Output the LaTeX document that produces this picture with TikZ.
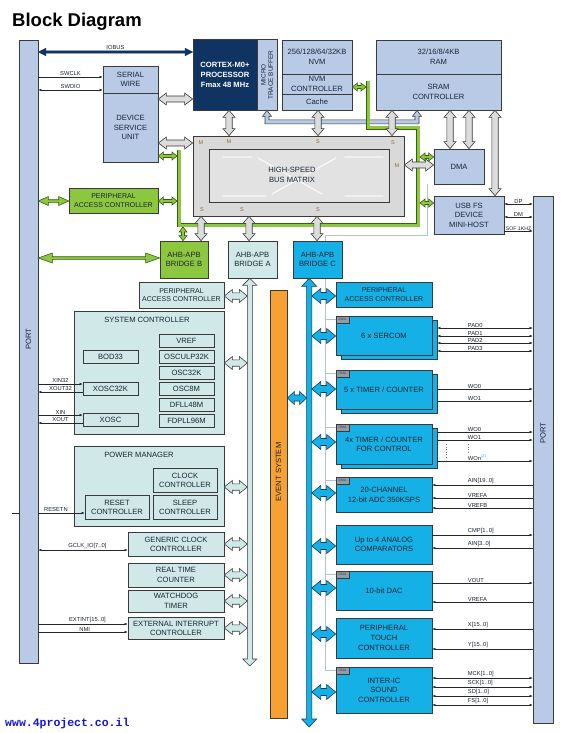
\documentclass[tikz,border=0pt]{standalone}
\usepackage{fontspec}
\setmainfont{Liberation Sans}
\newfontfamily\wmfont{Liberation Mono}
\usetikzlibrary{calc,arrows.meta}
\pgfdeclarelayer{bg}
\pgfsetlayers{bg,main}
\definecolor{pblue}{HTML}{B8CAE6}
\definecolor{navy}{HTML}{0F3462}
\definecolor{mgray}{HTML}{D9D9D9}
\definecolor{igray}{HTML}{E2E2E2}
\definecolor{fgray}{HTML}{DCDCDC}
\definecolor{lgreen}{HTML}{8DC63F}
\definecolor{dgreen}{HTML}{35610F}
\definecolor{tealbox}{HTML}{D0E9E8}
\definecolor{cyanb}{HTML}{15B1E6}
\definecolor{bdark}{HTML}{133D5C}
\definecolor{orng}{HTML}{F7A134}
\definecolor{outl}{HTML}{3A3A3A}
\definecolor{txt}{HTML}{1A2433}
\definecolor{dmag}{HTML}{8E9DA8}
\definecolor{reql}{HTML}{B0C3CF}
\definecolor{mslab}{HTML}{8C6A3F}
\definecolor{wmblue}{HTML}{1414E6}
\newcommand\fsz[2]{\fontsize{#1}{#2}\selectfont}
\newcommand\boxat[7][bx]{\node[#1,minimum width={(#5-#3)*1pt},minimum height={(#6-#4)*1pt}] (#2) at ({(#3+#5)/2},{(#4+#6)/2}) {#7};}
\newcommand\fatarr[6][gfat]{%
 \path[#1] let \p1=(#2),\p2=(#3),\n1={atan2(\y2-\y1,\x2-\x1)} in
 (\p1) -- ($(\p1)+(\n1:#4pt)+({\n1+90}:#5pt)$) -- ($(\p1)+(\n1:#4pt)+({\n1+90}:#6pt)$)
 -- ($(\p2)+({\n1+180}:#4pt)+({\n1+90}:#6pt)$) -- ($(\p2)+({\n1+180}:#4pt)+({\n1+90}:#5pt)$)
 -- (\p2) -- ($(\p2)+({\n1+180}:#4pt)+({\n1-90}:#5pt)$) -- ($(\p2)+({\n1+180}:#4pt)+({\n1-90}:#6pt)$)
 -- ($(\p1)+(\n1:#4pt)+({\n1-90}:#6pt)$) -- ($(\p1)+(\n1:#4pt)+({\n1-90}:#5pt)$) -- cycle;}
\newcounter{lb}
\newcommand\rsig[4]{\draw[sig,#1] (#2.east |- 0,#3) -- (portR.west |- 0,#3);\stepcounter{lb}\node[lab,anchor=south west] (rl\arabic{lb}) at (467,#3) {#4};}
\tikzset{
 bx/.style={draw=outl,line width=0.7pt,inner sep=0pt,align=center,text=txt,font=\fsz{7.6}{9.6}},
 pb/.style={bx,fill=pblue},
 gb/.style={bx,fill=lgreen},
 tb/.style={bx,fill=tealbox},
 cb/.style={bx,fill=cyanb},
 pacf/.style={font=\fsz{7}{8.3}},
 dmatag/.style={bx,fill=dmag,font=\fsz{3.4}{4},text=black!75,line width=0.5pt},
 gfat/.style={fill=fgray,draw=outl,line width=0.6pt},
 tfat/.style={fill=tealbox,draw=outl,line width=0.6pt},
 bfat/.style={fill=cyanb,draw=bdark,line width=0.6pt},
 grfat/.style={fill=lgreen,draw=dgreen,line width=0.6pt},
 nfat/.style={fill=navy,draw=navy,line width=0.4pt},
 sig/.style={draw=black!85,line width=0.5pt},
 ar/.style={-{Latex[length=3pt,width=2.6pt]}},
 al/.style={{Latex[length=3pt,width=2.6pt]}-},
 lr/.style={{Latex[length=3pt,width=2.6pt]}-{Latex[length=3pt,width=2.6pt]}},
 lab/.style={font=\fsz{5.8}{6.5},text=txt,inner sep=0.7pt},
 ms/.style={font=\fsz{5.5}{6},text=mslab,inner sep=0pt},
 req/.style={draw=reql,line width=1pt},
 gbus/.style={draw=dgreen,double=lgreen,double distance=3pt,line width=0.75pt,line join=miter},
 vtxt/.style={rotate=90,align=center,text=txt,font=\fsz{7.6}{8.5}},
}
\begin{document}
\begin{tikzpicture}[x=1pt,y=-1pt]
\useasboundingbox (0,0) rectangle (563,733);
\begin{pgfonlayer}{bg}
\fill[white] (0,0) rectangle (563,733);
\end{pgfonlayer}
\node[anchor=base west,inner sep=0pt,font=\bfseries\fsz{18.5}{20}] (title) at (12,27) {Block Diagram};
\node[anchor=base west,inner sep=0pt,font=\wmfont\bfseries\fsz{11.5}{12},text=wmblue] (wm) at (5,726) {www.4project.co.il};
% coordinates
\coordinate (gbusL) at (177,0); \coordinate (gbusR) at (420,0); \coordinate (gbusN) at (366,0); \coordinate (gbusB) at (0,227);
\coordinate (busAL) at (247.3,0); \coordinate (busAend) at (249.8,666);
\coordinate (busCL) at (306.6,0); \coordinate (busCR) at (311.8,0); \coordinate (busCend) at (309.2,727);
\coordinate (reqx) at (325,0); \coordinate (rstin) at (12,513);
% RESETN outside part (under port bar)
\draw[sig] (rstin) -- (38,513);
% ports
\boxat[pb]{portL}{19}{40}{38}{663}{}
\boxat[pb]{portR}{533}{196}{553}{723}{}
\node[vtxt] (portLt) at (28.5,339) {PORT};
\node[vtxt] (portRt) at (543,433) {PORT};
% top blocks
\boxat[bx,fill=navy,text=white,font=\bfseries\fsz{7.6}{10}]{cortex}{193}{39}{257}{110}{CORTEX-M0+\\PROCESSOR\\Fmax 48 MHz}
\boxat[pb]{mtb}{257}{39}{277}{110}{}
\node[vtxt,font=\fsz{6.4}{7.2}] (mtbt) at (267,75) {MICRO\\TRACE BUFFER};
\boxat[pb]{nvmtop}{282}{40}{352}{74}{256/128/64/32KB\\NVM}
\boxat[pb]{nvmctl}{282}{74}{352}{94}{NVM\\CONTROLLER}
\boxat[pb]{cache}{282}{94}{352}{110}{Cache}
\boxat[pb]{ramtop}{376}{40}{501}{74}{32/16/8/4KB\\RAM}
\boxat[pb]{sramc}{376}{74}{501}{110}{SRAM\\CONTROLLER}
\boxat[pb]{sw}{103}{66}{158}{93}{SERIAL\\WIRE}
\boxat[pb]{dsu}{103}{93}{158}{162}{DEVICE\\SERVICE\\UNIT}
% bus matrix
\boxat[bx,fill=mgray]{matrix}{193}{136}{404}{216}{}
\boxat[bx,fill=igray]{matrixin}{209}{149}{389}{202}{}
\draw[white,line width=1.3pt,line cap=round,opacity=0.75] (223,157)--(252,157) (258,158)--(322,194) (345,196)--(383,196) (223,196)--(266,196) (272,194)--(336,158) (345,157)--(383,157);
\node[align=center,text=txt,font=\fsz{7.6}{9.8}] (mtxt) at (292,175) {HIGH-SPEED\\BUS MATRIX};
\node[ms] (m1) at (201,143) {M};
\node[ms] (m2) at (229,142) {M};
\node[ms] (s1) at (318,142) {S};
\node[ms] (s2) at (393,143) {S};
\node[ms] (m3) at (397,166) {M};
\node[ms] (s3) at (202,210) {S};
\node[ms] (s4) at (242,210) {S};
\node[ms] (s5) at (318,210) {S};
\boxat[pb]{dma}{434}{149}{484}{184}{DMA}
\boxat[pb]{usb}{434}{196}{504}{234}{USB FS\\DEVICE\\MINI-HOST}
\boxat[gb,pacf]{gpac}{69}{188}{158}{213}{PERIPHERAL\\ACCESS CONTROLLER}
\boxat[gb]{brB}{160}{241}{208}{278}{AHB-APB\\BRIDGE B}
\boxat[tb]{brA}{228}{241}{277}{278}{AHB-APB\\BRIDGE A}
\boxat[cb]{brC}{293}{241}{342}{278}{AHB-APB\\BRIDGE C}
% bridge A peripherals
\boxat[tb,pacf]{tpac}{139}{282}{224}{308}{PERIPHERAL\\ACCESS CONTROLLER}
\boxat[tb]{sysc}{74}{311}{224}{434}{}
\node[text=txt,font=\fsz{7.6}{9}] (syst) at (147,320) {SYSTEM CONTROLLER};
\boxat[tb]{vref}{159}{334}{214}{347}{VREF}
\boxat[tb]{osculp}{159}{350}{214}{363}{OSCULP32K}
\boxat[tb]{osc32k}{159}{366}{214}{379}{OSC32K}
\boxat[tb]{osc8m}{159}{382}{214}{395}{OSC8M}
\boxat[tb]{dfll}{159}{398}{214}{411}{DFLL48M}
\boxat[tb]{fdpll}{159}{414}{214}{427}{FDPLL96M}
\boxat[tb]{bod}{83}{350}{138}{363}{BOD33}
\boxat[tb]{xosc32k}{83}{382}{138}{395}{XOSC32K}
\boxat[tb]{xosc}{83}{413}{138}{426}{XOSC}
\boxat[tb]{pm}{74}{446}{224}{526}{}
\node[text=txt,font=\fsz{7.6}{9}] (pmt) at (139,455) {POWER MANAGER};
\boxat[tb,font=\fsz{7.6}{9}]{clkc}{153}{468}{217}{492}{CLOCK\\CONTROLLER}
\boxat[tb,font=\fsz{7.6}{9}]{slpc}{153}{495}{217}{519}{SLEEP\\CONTROLLER}
\boxat[tb,font=\fsz{7.6}{9}]{rstc}{85}{495}{149}{519}{RESET\\CONTROLLER}
\boxat[tb,font=\fsz{7.6}{9}]{gclk}{128}{532}{224}{556}{GENERIC CLOCK\\CONTROLLER}
\boxat[tb]{rtc}{128}{563}{224}{587}{REAL TIME\\COUNTER}
\boxat[tb]{wdt}{128}{590}{224}{612}{WATCHDOG\\TIMER}
\boxat[tb,font=\fsz{7.6}{9}]{eic}{128}{617}{224}{639}{EXTERNAL INTERRUPT\\CONTROLLER}
% event system
\boxat[bx,fill=orng]{evsys}{270}{290}{287}{718}{}
\node[vtxt] (evt) at (278.5,472) {EVENT SYSTEM};
% bridge C peripherals
\boxat[cb,pacf]{bpac}{336}{282}{432}{307}{PERIPHERAL\\ACCESS CONTROLLER}
\boxat[cb]{sercomB}{341}{320}{437}{359}{}
\boxat[cb]{sercom}{336}{316}{432}{355}{6 x SERCOM}
\boxat[dmatag]{tagS}{336}{316}{349}{323}{DMA}
\boxat[cb]{tcB}{341}{374}{437}{413}{}
\boxat[cb]{tc}{336}{370}{432}{409}{5 x TIMER / COUNTER}
\boxat[dmatag]{tagT}{336}{370}{349}{377}{DMA}
\boxat[cb]{tccB}{341}{428}{437}{468}{}
\boxat[cb,font=\fsz{7.6}{9.2}]{tcc}{336}{424}{432}{464}{4x TIMER / COUNTER\\FOR CONTROL}
\boxat[dmatag]{tagC}{336}{424}{349}{431}{DMA}
\boxat[cb,font=\fsz{7.6}{10}]{adc}{336}{477}{432}{512}{20-CHANNEL\\12-bit ADC 350KSPS}
\boxat[dmatag]{tagA}{336}{477}{349}{484}{DMA}
\boxat[cb,font=\fsz{7.6}{9.2}]{ac}{336}{525}{432}{564}{Up to 4 ANALOG\\COMPARATORS}
\boxat[cb]{dac}{336}{571}{432}{610}{10-bit DAC}
\boxat[dmatag]{tagD}{336}{571}{349}{578}{DMA}
\boxat[cb,font=\fsz{7.6}{10}]{ptc}{336}{618}{432}{658}{PERIPHERAL\\TOUCH\\CONTROLLER}
\boxat[cb,font=\fsz{7.6}{9.5}]{i2s}{336}{667}{432}{713}{INTER-IC\\SOUND\\CONTROLLER}
\boxat[dmatag]{tagI}{336}{667}{349}{674}{DMA}
% DMA request line (behind the boxes)
\begin{pgfonlayer}{bg}
\draw[req] (dma.south -| 427,0) -- (427,235) -- (325,235) -- (reqx |- tagI.west) -- (tagI.west);
\foreach \tg in {tagS,tagT,tagC,tagA,tagD} {\draw[req] (reqx |- \tg.west) -- (\tg.west);}
\end{pgfonlayer}
% MTB pipe
\path[fill=pblue,draw=outl,line width=0.6pt] let \p1=(mtb.south),\p2=(sramc.south -| 417,0) in
 (\p1) -- (\x1+4.5pt,\y1-6pt) -- (\x1+2pt,\y1-6pt) -- (\x1+2pt,\y1-9.5pt) -- (\x2-2pt,\y1-9.5pt) -- (\x2-2pt,\y2-6pt) -- (\x2-4.5pt,\y2-6pt) -- (\p2) -- (\x2+4.5pt,\y2-6pt) -- (\x2+2pt,\y2-6pt) -- (\x2+2pt,\y1-13.5pt) -- (\x1-2pt,\y1-13.5pt) -- (\x1-2pt,\y1-6pt) -- (\x1-4.5pt,\y1-6pt) -- cycle;
% green bus
\draw[gbus] (368,81) -- (368,128) -- (418,128) -- (418,225) -- (179,225) -- (179,150);
% gray fat arrows
\fatarr{dsu.east |- 0,99}{cortex.west |- 0,99}{8}{6}{3}
\fatarr{dsu.east |- 0,143}{matrix.west |- 0,143}{8}{6}{3}
\fatarr{cortex.south -| 229,0}{matrix.north -| 229,0}{7}{6}{3.2}
\fatarr{cache.south -| 318,0}{matrix.north -| 318,0}{7}{6}{3.2}
\fatarr{sramc.south -| 392,0}{matrix.north -| 392,0}{7}{6}{3.2}
\fatarr{sramc.south -| 450,0}{dma.north -| 450,0}{7}{6}{3.2}
\fatarr{sramc.south -| 469,0}{dma.north -| 469,0}{7}{6}{3.2}
\fatarr{sramc.south -| 495,0}{usb.north -| 495,0}{7}{6}{3.2}
\fatarr{matrix.east |- 0,165}{dma.west |- 0,165}{8}{6}{3}
\fatarr{matrix.south -| 201,0}{brB.north -| 201,0}{7}{6}{3.2}
\fatarr{matrix.south -| 249,0}{brA.north -| 249,0}{7}{6}{3.2}
\fatarr{matrix.south -| 317,0}{brC.north -| 317,0}{7}{6}{3.2}
% green arrows
\fatarr[grfat]{portL.east |- 0,258}{brB.west |- 0,258}{14}{5}{1.3}
\fatarr[grfat]{portL.east |- 0,201}{gpac.west |- 0,201}{10}{4.5}{1.3}
\fatarr[grfat]{dsu.east |- 0,156}{gbusL |- 0,156}{5}{4}{1.5}
\fatarr[grfat]{gpac.east |- 0,201}{gbusL |- 0,201}{5}{4}{1.5}
\fatarr[grfat]{nvmctl.east |- 0,87}{gbusN |- 0,87}{5}{4}{1.5}
\fatarr[grfat]{gbusR |- 0,157}{dma.west |- 0,157}{5}{4}{1.5}
\fatarr[grfat]{gbusR |- 0,203}{usb.west |- 0,203}{5}{4}{1.5}
\fatarr[grfat]{gbusB -| 183,0}{brB.north -| 183,0}{5}{4}{1.5}
% navy IOBUS
\fatarr[nfat]{portL.east |- 0,52}{cortex.west |- 0,52}{7.5}{3.8}{1.1}
\path (portL.east |- 0,52) -- (cortex.west |- 0,52) node[lab,midway,above=1.5pt] (liobus) {IOBUS};
% bridge A bus
\fatarr[tfat]{brA.south -| 249.8,0}{busAend}{7}{7}{2.5}
\foreach \bn/\yy in {tpac/296,sysc/363,pm/487,gclk/544,rtc/575,wdt/601,eic/628}
 {\fatarr[tfat]{\bn.east |- 0,\yy}{busAL |- 0,\yy}{8}{6.5}{3.2}}
% bridge C bus
\fatarr[bfat]{brC.south -| 309.2,0}{busCend}{8}{7.5}{2.6}
\foreach \bn/\yy in {bpac/296,sercom/336,tc/389,tcc/442,adc/493,ac/546,dac/588,ptc/634,i2s/692}
 {\fatarr[bfat]{busCR |- 0,\yy}{\bn.west |- 0,\yy}{9}{7.5}{3.5}}
\fatarr[bfat]{evsys.east |- 0,398}{busCL |- 0,398}{7}{6.5}{3}
% left signals
\draw[sig,ar] (portL.east |- 0,77) -- (sw.west |- 0,77) node[lab,midway,above] (lswclk) {SWCLK};
\draw[sig,lr] (portL.east |- 0,90) -- (sw.west |- 0,90) node[lab,midway,above] (lswdio) {SWDIO};
\draw[sig,ar] (portL.east |- 0,384) -- (xosc32k.west |- 0,384) node[lab,midway,above] (lxin32) {XIN32};
\draw[sig,al] (portL.east |- 0,392) -- (xosc32k.west |- 0,392) node[lab,midway,above] (lxout32) {XOUT32};
\draw[sig,ar] (portL.east |- 0,415) -- (xosc.west |- 0,415) node[lab,midway,above] (lxin) {XIN};
\draw[sig,al] (portL.east |- 0,423) -- (xosc.west |- 0,423) node[lab,midway,above] (lxout) {XOUT};
\draw[sig,ar] (portL.east |- rstin) -- (rstc.west |- rstin) node[lab,pos=0.38,above] (lrst) {RESETN};
\draw[sig,lr] (portL.east |- 0,550) -- (gclk.west |- 0,550) node[lab,pos=0.55,above] (lgclk) {GCLK\_IO[7..0]};
\draw[sig,ar] (portL.east |- 0,624) -- (eic.west |- 0,624) node[lab,pos=0.55,above] (lext) {EXTINT[15..0]};
\draw[sig,ar] (portL.east |- 0,632) -- (eic.west |- 0,632) node[lab,pos=0.52,above] (lnmi) {NMI};
% USB signals
\draw[sig,lr] (usb.east |- 0,204) -- (portR.west |- 0,204) node[lab,midway,above] (ldp) {DP};
\draw[sig,lr] (usb.east |- 0,217) -- (portR.west |- 0,217) node[lab,midway,above] (ldm) {DM};
\draw[sig,ar] (usb.east |- 0,231) -- (portR.west |- 0,231) node[lab,midway,above,font=\fsz{5.2}{6}] (lsof) {SOF 1KHZ};
% right signals
\rsig{lr}{sercomB}{328}{PAD0}
\rsig{lr}{sercomB}{336}{PAD1}
\rsig{lr}{sercomB}{343}{PAD2}
\rsig{lr}{sercomB}{351}{PAD3}
\rsig{ar}{tcB}{389}{WO0}
\rsig{ar}{tcB}{401}{WO1}
\rsig{ar}{tccB}{432}{WO0}
\rsig{ar}{tccB}{440}{WO1}
\rsig{ar}{tccB}{461}{WOn\textsuperscript{\color{cyanb}(2)}}
\draw[dotted,black!55,line width=0.5pt] (446,444) -- (446,458) (468,444) -- (468,452);
\rsig{al}{adc}{485}{AIN[19..0]}
\rsig{al}{adc}{498}{VREFA}
\rsig{al}{adc}{508}{VREFB}
\rsig{ar}{ac}{535}{CMP[1..0]}
\rsig{al}{ac}{548}{AIN[3..0]}
\rsig{ar}{dac}{583}{VOUT}
\rsig{al}{dac}{602}{VREFA}
\rsig{al}{ptc}{629}{X[15..0]}
\rsig{al}{ptc}{649}{Y[15..0]}
\rsig{lr}{i2s}{678}{MCK[1..0]}
\rsig{lr}{i2s}{687}{SCK[1..0]}
\rsig{lr}{i2s}{696}{SD[1..0]}
\rsig{lr}{i2s}{705}{FS[1..0]}
\end{tikzpicture}
\end{document}
